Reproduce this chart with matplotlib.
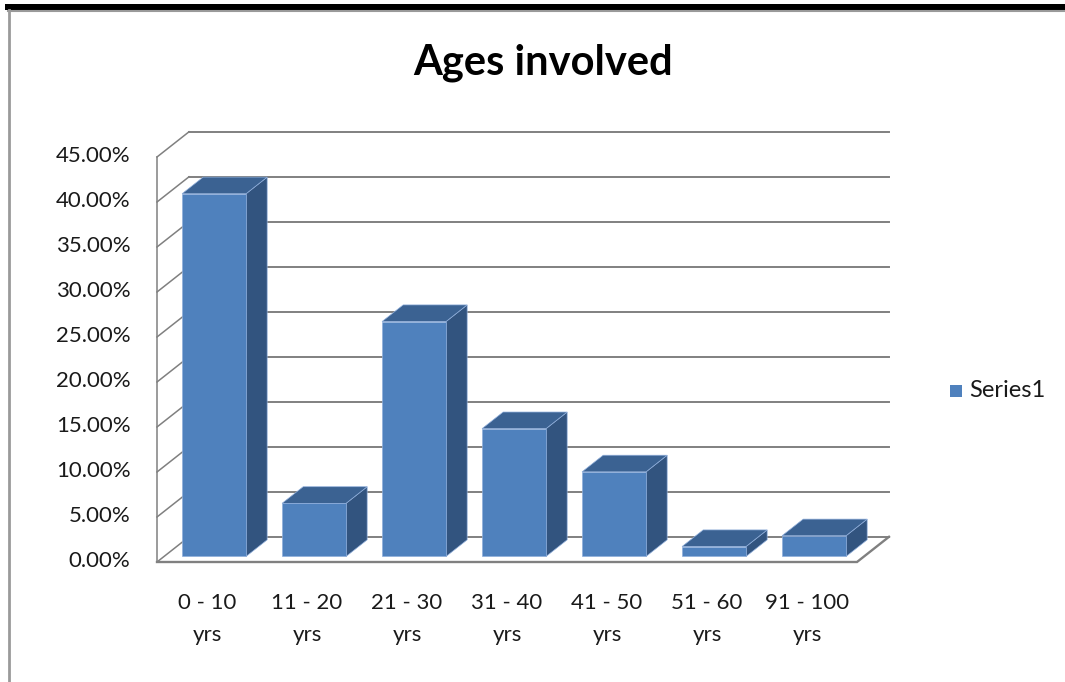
import matplotlib
matplotlib.use("Agg")
import matplotlib.pyplot as plt
from matplotlib.patches import Polygon, Rectangle
from matplotlib.lines import Line2D

# Data
categories = ["0 - 10\nyrs", "11 - 20\nyrs", "21 - 30\nyrs", "31 - 40\nyrs",
              "41 - 50\nyrs", "51 - 60\nyrs", "91 - 100\nyrs"]
values = [40.3, 5.9, 26.1, 14.2, 9.4, 1.1, 2.3]   # percent
y_ticks = [0, 5, 10, 15, 20, 25, 30, 35, 40, 45]
series_name = "Series1"
title = "Ages involved"

# Style
FRONT = "#4F81BD"
TOP = "#3B6292"
SIDE = "#32547F"
EDGE = "#8FAEDB"
GRID = "#808080"
FONT = "Lato"
TXT = "#1a1a1a"

# Oblique depth vector (full floor depth) in data units
DX, DY = 0.32, 2.8
BAR_W = 0.64
D0, D1 = 0.22, 0.88      # bar front / back depth fractions

W, H = 1065, 682
fig = plt.figure(figsize=(W / 100, H / 100), dpi=100)
fig.patch.set_facecolor("white")

ax = fig.add_axes([157 / W, (H - 562) / H, 700 / W, 405 / H])
ax.set_xlim(0, len(categories))
ax.set_ylim(0, 45)
ax.axis("off")

ymax = y_ticks[-1]
n = len(categories)

# Back wall and side wall gridlines
for v in y_ticks:
    ax.add_line(Line2D([DX, n + DX], [v + DY, v + DY], color=GRID, lw=1.4,
                       clip_on=False, zorder=1))
    ax.add_line(Line2D([0, DX], [v, v + DY], color=GRID, lw=1.1,
                       clip_on=False, zorder=1))
# Front vertical edge of side wall
ax.add_line(Line2D([0, 0], [0, ymax], color=GRID, lw=1.1, clip_on=False, zorder=1))
# Floor outline
ax.add_line(Line2D([0, n, n + DX], [0, 0, DY], color=GRID, lw=1.7,
                   clip_on=False, zorder=1, solid_joinstyle="miter"))

# 3D columns
dd = D1 - D0
for i, v in enumerate(values):
    xl = i + (1 - BAR_W) / 2 + D0 * DX
    xr = xl + BAR_W
    base = D0 * DY
    top = v + D0 * DY
    ax.add_patch(Polygon([(xr, base), (xr + dd * DX, base + dd * DY),
                          (xr + dd * DX, top + dd * DY), (xr, top)],
                         closed=True, facecolor=SIDE, edgecolor=EDGE, lw=0.5,
                         clip_on=False, zorder=3))
    ax.add_patch(Polygon([(xl, top), (xr, top), (xr + dd * DX, top + dd * DY),
                          (xl + dd * DX, top + dd * DY)],
                         closed=True, facecolor=TOP, edgecolor=EDGE, lw=0.5,
                         clip_on=False, zorder=3))
    ax.add_patch(Rectangle((xl, base), BAR_W, v, facecolor=FRONT,
                           edgecolor=EDGE, lw=0.5, clip_on=False, zorder=4))

# Value axis labels
for v in y_ticks:
    ax.annotate(f"{v:.2f}%", xy=(0, v), xytext=(-19, 1), textcoords="offset points",
                ha="right", va="center", fontsize=16, family=FONT, color=TXT)

# Category labels
for i, c in enumerate(categories):
    ax.annotate(c, xy=(i + 0.5, 0), xytext=(0, -22), textcoords="offset points",
                ha="center", va="top", fontsize=16, family=FONT, color=TXT,
                linespacing=1.75)

# Title
fig.text(543 / W, 1 - 63 / H, title, ha="center", va="center", fontsize=30,
         fontweight="bold", family=FONT, color="black")

# Legend
fig.patches.append(Rectangle((950 / W, 1 - 397 / H), 12 / W, 12 / H,
                             transform=fig.transFigure, facecolor=FRONT,
                             edgecolor="none", figure=fig))
fig.text(969 / W, 1 - 390 / H, series_name, ha="left", va="center",
         fontsize=17, family=FONT, color=TXT)

# Frame edges
fig.patches.append(Rectangle((5 / W, 1 - 10 / H), 1 - 5 / W, 6 / H,
                             transform=fig.transFigure, facecolor="black",
                             edgecolor="none", figure=fig))
fig.add_artist(Line2D([8 / W, 1], [1 - 11 / H, 1 - 11 / H], color="#9a9a9a", lw=1.5))
fig.add_artist(Line2D([9 / W, 9 / W], [0, 1 - 10 / H], color="#9a9a9a", lw=2))

fig.savefig("out.png", dpi=100)
